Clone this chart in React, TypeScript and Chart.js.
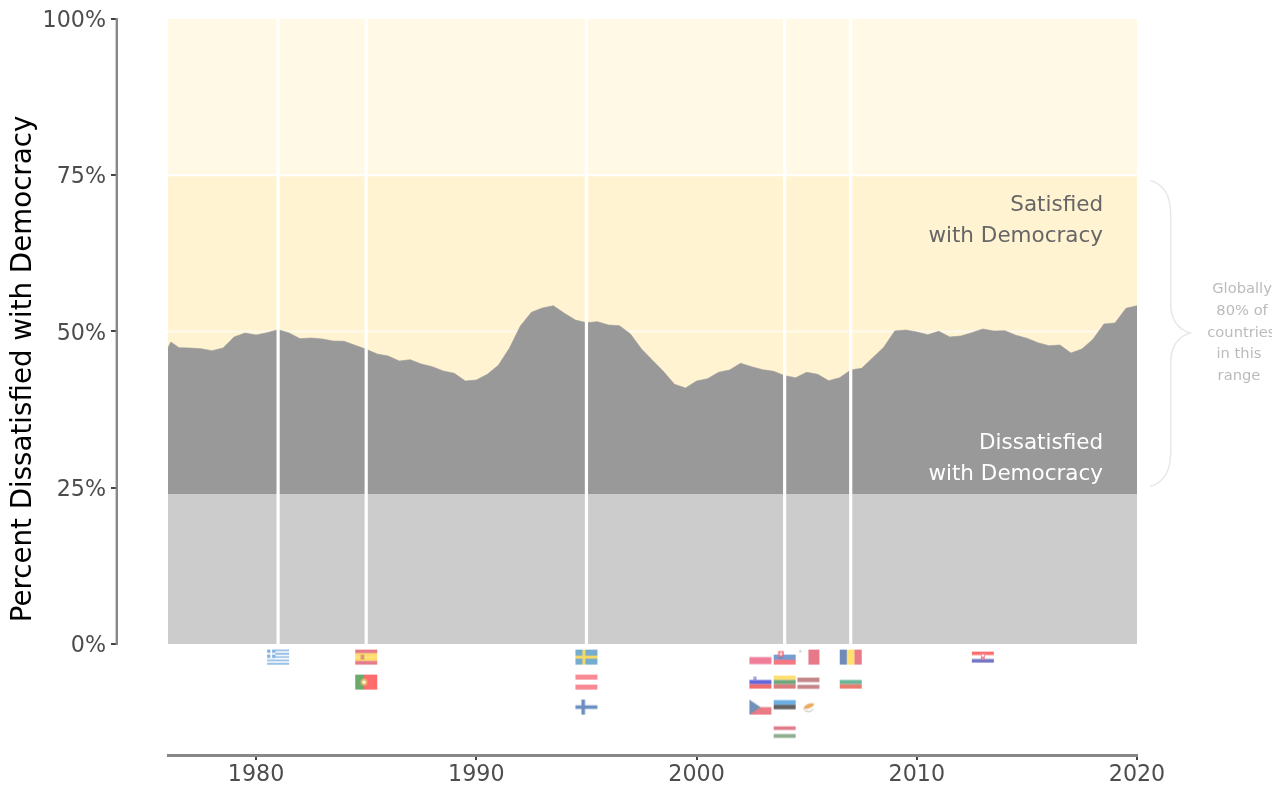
import React, { useEffect, useRef } from "react";
import { Chart, registerables } from "chart.js";

Chart.register(...registerables);

const years = [
  1976, 1976.13, 1976.5, 1977, 1977.5, 1978, 1978.5, 1979, 1979.5, 1980, 1980.5, 1981, 1981.5, 1982, 1982.5, 1983, 1983.5,
  1984, 1984.5, 1985, 1985.5, 1986, 1986.5, 1987, 1987.5, 1988, 1988.5, 1989, 1989.5, 1990, 1990.5, 1991, 1991.5,
  1992, 1992.5, 1993, 1993.5, 1994, 1994.5, 1995, 1995.5, 1996, 1996.5, 1997, 1997.5, 1998, 1998.5, 1999, 1999.5,
  2000, 2000.5, 2001, 2001.5, 2002, 2002.5, 2003, 2003.5, 2004, 2004.5, 2005, 2005.5, 2006, 2006.5, 2007, 2007.5,
  2008, 2008.5, 2009, 2009.5, 2010, 2010.5, 2011, 2011.5, 2012, 2012.5, 2013, 2013.5, 2014, 2014.5, 2015, 2015.5,
  2016, 2016.5, 2017, 2017.5, 2018, 2018.5, 2019, 2019.5, 2020, 2020.05,
];
const dissatisfied = [
  47.4, 48.32, 47.41, 47.36, 47.25, 46.93, 47.36, 49.12, 49.76, 49.44, 49.81, 50.29, 49.76, 48.85, 48.96, 48.8, 48.48,
  48.43, 47.79, 47.15, 46.4, 46.08, 45.28, 45.49, 44.8, 44.37, 43.68, 43.31, 42.08, 42.24, 43.15, 44.59, 47.31,
  50.88, 53.07, 53.76, 54.13, 52.91, 51.84, 51.41, 51.57, 51.04, 50.93, 49.6, 47.2, 45.4, 43.6, 41.55, 40.96,
  42.08, 42.45, 43.47, 43.84, 44.91, 44.37, 43.89, 43.63, 42.93, 42.61, 43.47, 43.15, 42.13, 42.61, 43.84, 44.11,
  45.81, 47.47, 50.08, 50.24, 49.92, 49.49, 50.03, 49.12, 49.28, 49.81, 50.4, 50.08, 50.13, 49.39, 48.91, 48.21,
  47.73, 47.84, 46.56, 47.2, 48.75, 51.2, 51.36, 53.71, 54.13, 52.9,
];

const xRange = [1976, 2020];
const bandEdges = [100, 75, 24, 0];
const bandColors = ["#FFF9E6", "#FFF3D1", "#999999", "#CCCCCC"];
const yTickValues = [0, 25, 50, 75, 100];
const xTickValues = [1980, 1990, 2000, 2010, 2020];
const joinYears = [1981, 1985, 1995, 2004, 2007];

const flagNames = ["greece", "spain", "portugal", "sweden", "austria", "finland", "poland", "slovenia", "czech", "slovakia", "lithuania", "estonia", "hungary", "malta", "latvia", "cyprus", "romania", "bulgaria", "croatia"];
const flagYears = [1981, 1985, 1985, 1995, 1995, 1995, 2002.9, 2002.9, 2002.9, 2004, 2004, 2004, 2004, 2005.08, 2005.08, 2005.08, 2007, 2007, 2013];
const flagValues = [-2.1, -2.1, -6.1, -2.1, -6.1, -10.1, -2.1, -6.1, -10.1, -2.1, -6.1, -10.1, -14.1, -2.1, -6.1, -10.1, -2.1, -6.1, -2.1];

const yTitle = "Percent Dissatisfied with Democracy";
const satisfiedLines = ["Satisfied", "with Democracy"];
const dissatisfiedLines = ["Dissatisfied", "with Democracy"];
const globalLines = ["Globally", "80% of", "countries", "in this", "range"];
const FONT = "'DejaVu Sans'";

function stripes(c: CanvasRenderingContext2D, colors: string[], h: number) {
  const top = (15 - h) / 2;
  colors.forEach((col, i) => {
    c.fillStyle = col;
    c.fillRect(0, top + (i * h) / colors.length, 22, h / colors.length);
  });
}

const flagPainters: Record<string, (c: CanvasRenderingContext2D) => void> = {
  greece(c) {
    for (let i = 0; i < 9; i++) {
      c.fillStyle = i % 2 ? "#FFFFFF" : "#78ACE0";
      c.fillRect(0, (i * 15) / 9, 22, 15 / 9);
    }
    c.fillStyle = "#78ACE0";
    c.fillRect(0, 0, 8.3, 8.3);
    c.fillStyle = "#FFFFFF";
    c.fillRect(3.3, 0, 1.7, 8.3);
    c.fillRect(0, 3.3, 8.3, 1.7);
  },
  spain(c) {
    stripes(c, ["#E2707C", "#FFDB5E", "#FFDB5E", "#E2707C"], 15);
    c.fillStyle = "#D0906A";
    c.fillRect(5.5, 5, 3.5, 5);
  },
  portugal(c) {
    c.fillStyle = "#FF6060";
    c.fillRect(0, 0, 22, 15);
    c.fillStyle = "#5FA35F";
    c.fillRect(0, 0, 8.8, 15);
    c.fillStyle = "#E8B060";
    c.beginPath();
    c.arc(8.8, 7.5, 3.4, 0, 7);
    c.fill();
    c.fillStyle = "#FFFFFF";
    c.beginPath();
    c.arc(8.8, 7.5, 1.6, 0, 7);
    c.fill();
  },
  sweden(c) {
    c.fillStyle = "#6AA6CE";
    c.fillRect(0, 0, 22, 15);
    c.fillStyle = "#F5D65A";
    c.fillRect(7, 0, 3, 15);
    c.fillRect(0, 6, 22, 3);
  },
  austria(c) {
    stripes(c, ["#F8818B", "#FFFFFF", "#F8818B"], 15);
  },
  finland(c) {
    c.fillStyle = "#6086BC";
    c.fillRect(6, 0, 3.6, 15);
    c.fillRect(0, 5.7, 22, 3.6);
  },
  poland(c) {
    stripes(c, ["#FFFFFF", "#EE7190"], 14);
  },
  slovenia(c) {
    stripes(c, ["#FFFFFF", "#5A5AD8", "#F06060"], 13);
    c.fillStyle = "#6A6AD8";
    c.fillRect(4, 2, 3, 3);
    c.fillStyle = "#FFFFFF";
    c.fillRect(4.8, 2.8, 1.4, 1.4);
  },
  czech(c) {
    stripes(c, ["#FFFFFF", "#E8707A"], 15);
    c.fillStyle = "#6688B0";
    c.beginPath();
    c.moveTo(0, 0);
    c.lineTo(11, 7.5);
    c.lineTo(0, 15);
    c.fill();
  },
  slovakia(c) {
    stripes(c, ["#FFFFFF", "#6A97D0", "#F26D77"], 15);
    c.fillStyle = "#EE6070";
    c.fillRect(4.5, 1.5, 5.5, 7);
    c.fillStyle = "#FFFFFF";
    c.fillRect(6.7, 2.5, 1.2, 4);
    c.fillRect(5.7, 3.6, 3.2, 1);
    c.fillStyle = "#5080C8";
    c.fillRect(5.5, 6.8, 3.5, 2);
  },
  lithuania(c) {
    stripes(c, ["#FFDC66", "#66A070", "#D87070"], 13);
  },
  estonia(c) {
    stripes(c, ["#5FA8E0", "#555555", "#FFFFFF"], 14);
  },
  hungary(c) {
    stripes(c, ["#DD7080", "#FFFFFF", "#85A888"], 11.5);
  },
  malta(c) {
    c.fillStyle = "#E56D7E";
    c.fillRect(11, 0, 11, 15);
    c.fillStyle = "#C8B8C0";
    c.fillRect(1.6, 1.2, 2.6, 1);
    c.fillRect(2.4, 0.4, 1, 2.6);
  },
  latvia(c) {
    c.fillStyle = "#C07C80";
    c.fillRect(0, 3, 22, 4.5);
    c.fillRect(0, 10.2, 22, 4);
  },
  cyprus(c) {
    c.fillStyle = "#E8A858";
    c.beginPath();
    c.ellipse(11.5, 6.4, 5.6, 2.2, -0.4, 0, 7);
    c.fill();
    c.strokeStyle = "#B0B0A0";
    c.lineWidth = 1;
    c.beginPath();
    c.arc(11, 6.5, 5.5, 0.5, 2.6);
    c.stroke();
  },
  romania(c) {
    c.fillStyle = "#6480B5";
    c.fillRect(0, 0, 7.4, 15);
    c.fillStyle = "#FFE066";
    c.fillRect(7.4, 0, 7.3, 15);
    c.fillStyle = "#E8707E";
    c.fillRect(14.7, 0, 7.3, 15);
  },
  bulgaria(c) {
    stripes(c, ["#FFFFFF", "#5FB090", "#EA7060"], 13);
  },
  croatia(c) {
    stripes(c, ["#FF6060", "#FFFFFF", "#6A6CC0"], 11);
    c.fillStyle = "#F08090";
    c.fillRect(9, 3.5, 4, 6.5);
    c.fillStyle = "#FFFFFF";
    c.fillRect(10, 5, 2, 2);
  },
};

function flagCanvas(name: string) {
  const inner = document.createElement("canvas");
  inner.width = 22;
  inner.height = 15;
  flagPainters[name](inner.getContext("2d") as CanvasRenderingContext2D);
  const cv = document.createElement("canvas");
  cv.width = 26;
  cv.height = 19;
  const c = cv.getContext("2d") as CanvasRenderingContext2D;
  c.filter = "blur(0.45px)";
  c.globalAlpha = 0.92;
  c.drawImage(inner, 2, 2);
  return cv;
}

const flatLine = (v: number) => xRange.map((x) => ({ x, y: v }));

const overlayPlugin = {
  id: "overlay",
  afterLayout(chart: any) {
    const yS = chart.scales.y;
    yS.right = 117;
    yS.bottom = 719;
    const orig = yS._computeLabelItems.bind(yS);
    yS._computeLabelItems = (area: any) =>
      orig(area).map((it: any) => ({ ...it, textOffset: it.textOffset + 2.4 }));
  },
  afterDraw(chart: any) {
    const { ctx } = chart;
    const X = (v: number) => chart.scales.x.getPixelForValue(v);
    const Y = (v: number) => chart.scales.y.getPixelForValue(v);
    ctx.save();
    ctx.strokeStyle = "#888888";
    ctx.lineWidth = 2.4;
    ctx.beginPath();
    ctx.moveTo(116.8, Y(100) - 1);
    ctx.lineTo(116.8, Y(0) + 1);
    ctx.stroke();
    ctx.textAlign = "right";
    ctx.textBaseline = "middle";
    ctx.font = `21.5px ${FONT}`;
    ctx.fillStyle = "#666666";
    [70.2, 65.2].forEach((v, i) => ctx.fillText(satisfiedLines[i], X(2018.46), Y(v)));
    ctx.fillStyle = "#FFFFFF";
    [32.1, 27.1].forEach((v, i) => ctx.fillText(dissatisfiedLines[i], X(2018.46), Y(v)));
    ctx.textAlign = "center";
    ctx.font = `14.7px ${FONT}`;
    ctx.fillStyle = "#BBBBBB";
    const gx = [2024.77, 2024.77, 2024.74, 2024.63, 2024.63];
    [56.7, 53.2, 49.8, 46.3, 42.9].forEach((v, i) => ctx.fillText(globalLines[i], X(gx[i]), Y(v)));
    const x0 = X(2020.59);
    const x1 = X(2021.53);
    const x2 = X(2022.41);
    const t = Y(74.2);
    const m = Y(49.76);
    const b = Y(25.2);
    ctx.strokeStyle = "#E8E8E8";
    ctx.lineWidth = 1.5;
    ctx.beginPath();
    ctx.moveTo(x0, t);
    ctx.quadraticCurveTo(x1, t + 6, x1, t + 34);
    ctx.lineTo(x1, m - 30);
    ctx.quadraticCurveTo(x1, m - 6, x2, m);
    ctx.quadraticCurveTo(x1, m + 6, x1, m + 30);
    ctx.lineTo(x1, b - 34);
    ctx.quadraticCurveTo(x1, b - 6, x0, b);
    ctx.stroke();
    ctx.restore();
  },
};

export default function App() {
  const ref = useRef<HTMLCanvasElement>(null);
  useEffect(() => {
    const base = { type: "line", pointRadius: 0, borderWidth: 0, tension: 0 };
    const chart = new Chart(ref.current as HTMLCanvasElement, {
      type: "line",
      data: {
        datasets: [
          { ...base, label: "Above band", data: flatLine(bandEdges[0]), fill: { value: bandEdges[1] }, backgroundColor: bandColors[0], order: 20 },
          { ...base, label: "Satisfied", data: flatLine(bandEdges[1]), fill: { value: bandEdges[2] }, backgroundColor: bandColors[1], order: 19 },
          { ...base, label: "50% line", data: flatLine(yTickValues[2]), borderWidth: 2, borderColor: "rgba(255,255,255,0.6)", order: 18 },
          { ...base, label: "75% line", data: flatLine(yTickValues[3]), borderWidth: 2, borderColor: "#FFFFFF", order: 17 },
          {
            ...base,
            label: "Dissatisfied",
            data: years.map((x, i) => ({ x, y: dissatisfied[i] })),
            fill: { value: bandEdges[2] },
            backgroundColor: bandColors[2],
            borderWidth: 0.6,
            borderColor: bandColors[2],
            clip: false,
            order: 16,
          },
          { ...base, label: "Below band", data: flatLine(bandEdges[2]), fill: { value: bandEdges[3] }, backgroundColor: bandColors[3], order: 15 },
          ...joinYears.map((yr, i) => ({
            ...base,
            label: `Join ${yr}`,
            data: [
              { x: yr, y: 0 },
              { x: yr, y: 100 },
            ],
            borderWidth: 3.2,
            borderColor: "#FFFFFF",
            order: 10 - i,
          })),
          {
            type: "scatter",
            label: "Flags",
            data: flagNames.map((_, i) => ({ x: flagYears[i], y: flagValues[i] })),
            pointStyle: flagNames.map(flagCanvas),
            pointRadius: 3,
            showLine: false,
            clip: false,
            order: 0,
          },
        ] as any,
      },
      options: {
        animation: false,
        responsive: false,
        devicePixelRatio: 1,
        font: { family: FONT },
        layout: { padding: { top: 19, right: 135, bottom: 0, left: 0 } },
        plugins: { legend: { display: false }, tooltip: { enabled: false }, title: { display: false } },
        scales: {
          x: {
            type: "linear",
            min: xRange[0],
            max: xRange[1],
            afterFit(s: any) {
              s.height = 30;
            },
            afterBuildTicks(s: any) {
              s.ticks = xTickValues.map((value) => ({ value }));
            },
            border: { color: "#888888", width: 3 },
            grid: { drawOnChartArea: false, drawTicks: true, tickLength: 5, color: "#444444", lineWidth: 2 },
            ticks: { color: "#4D4D4D", padding: 2, maxRotation: 0, callback: (v: any) => String(v), font: { family: FONT, size: 22.2 } },
          },
          y: {
            type: "linear",
            min: -17.76,
            max: 100,
            afterFit(s: any) {
              s.width = 168;
            },
            afterBuildTicks(s: any) {
              s.ticks = yTickValues.map((value) => ({ value }));
            },
            border: { display: false },
            grid: { drawOnChartArea: false, drawTicks: true, tickLength: 6, color: "#444444", lineWidth: 2 },
            ticks: { color: "#4D4D4D", padding: 5, callback: (v: any) => `${v}%`, font: { family: FONT, size: 22.2 } },
            title: { display: true, text: yTitle, color: "#000000", padding: { top: 7, bottom: 0 }, font: { family: FONT, size: 27.7 } },
          },
        },
      } as any,
      plugins: [overlayPlugin],
    });
    return () => chart.destroy();
  }, []);
  return (
    <div style={{ position: "absolute", left: 0, top: 0, width: 1272, height: 785 }}>
      <canvas ref={ref} width={1272} height={785} style={{ display: "block" }} />
    </div>
  );
}
